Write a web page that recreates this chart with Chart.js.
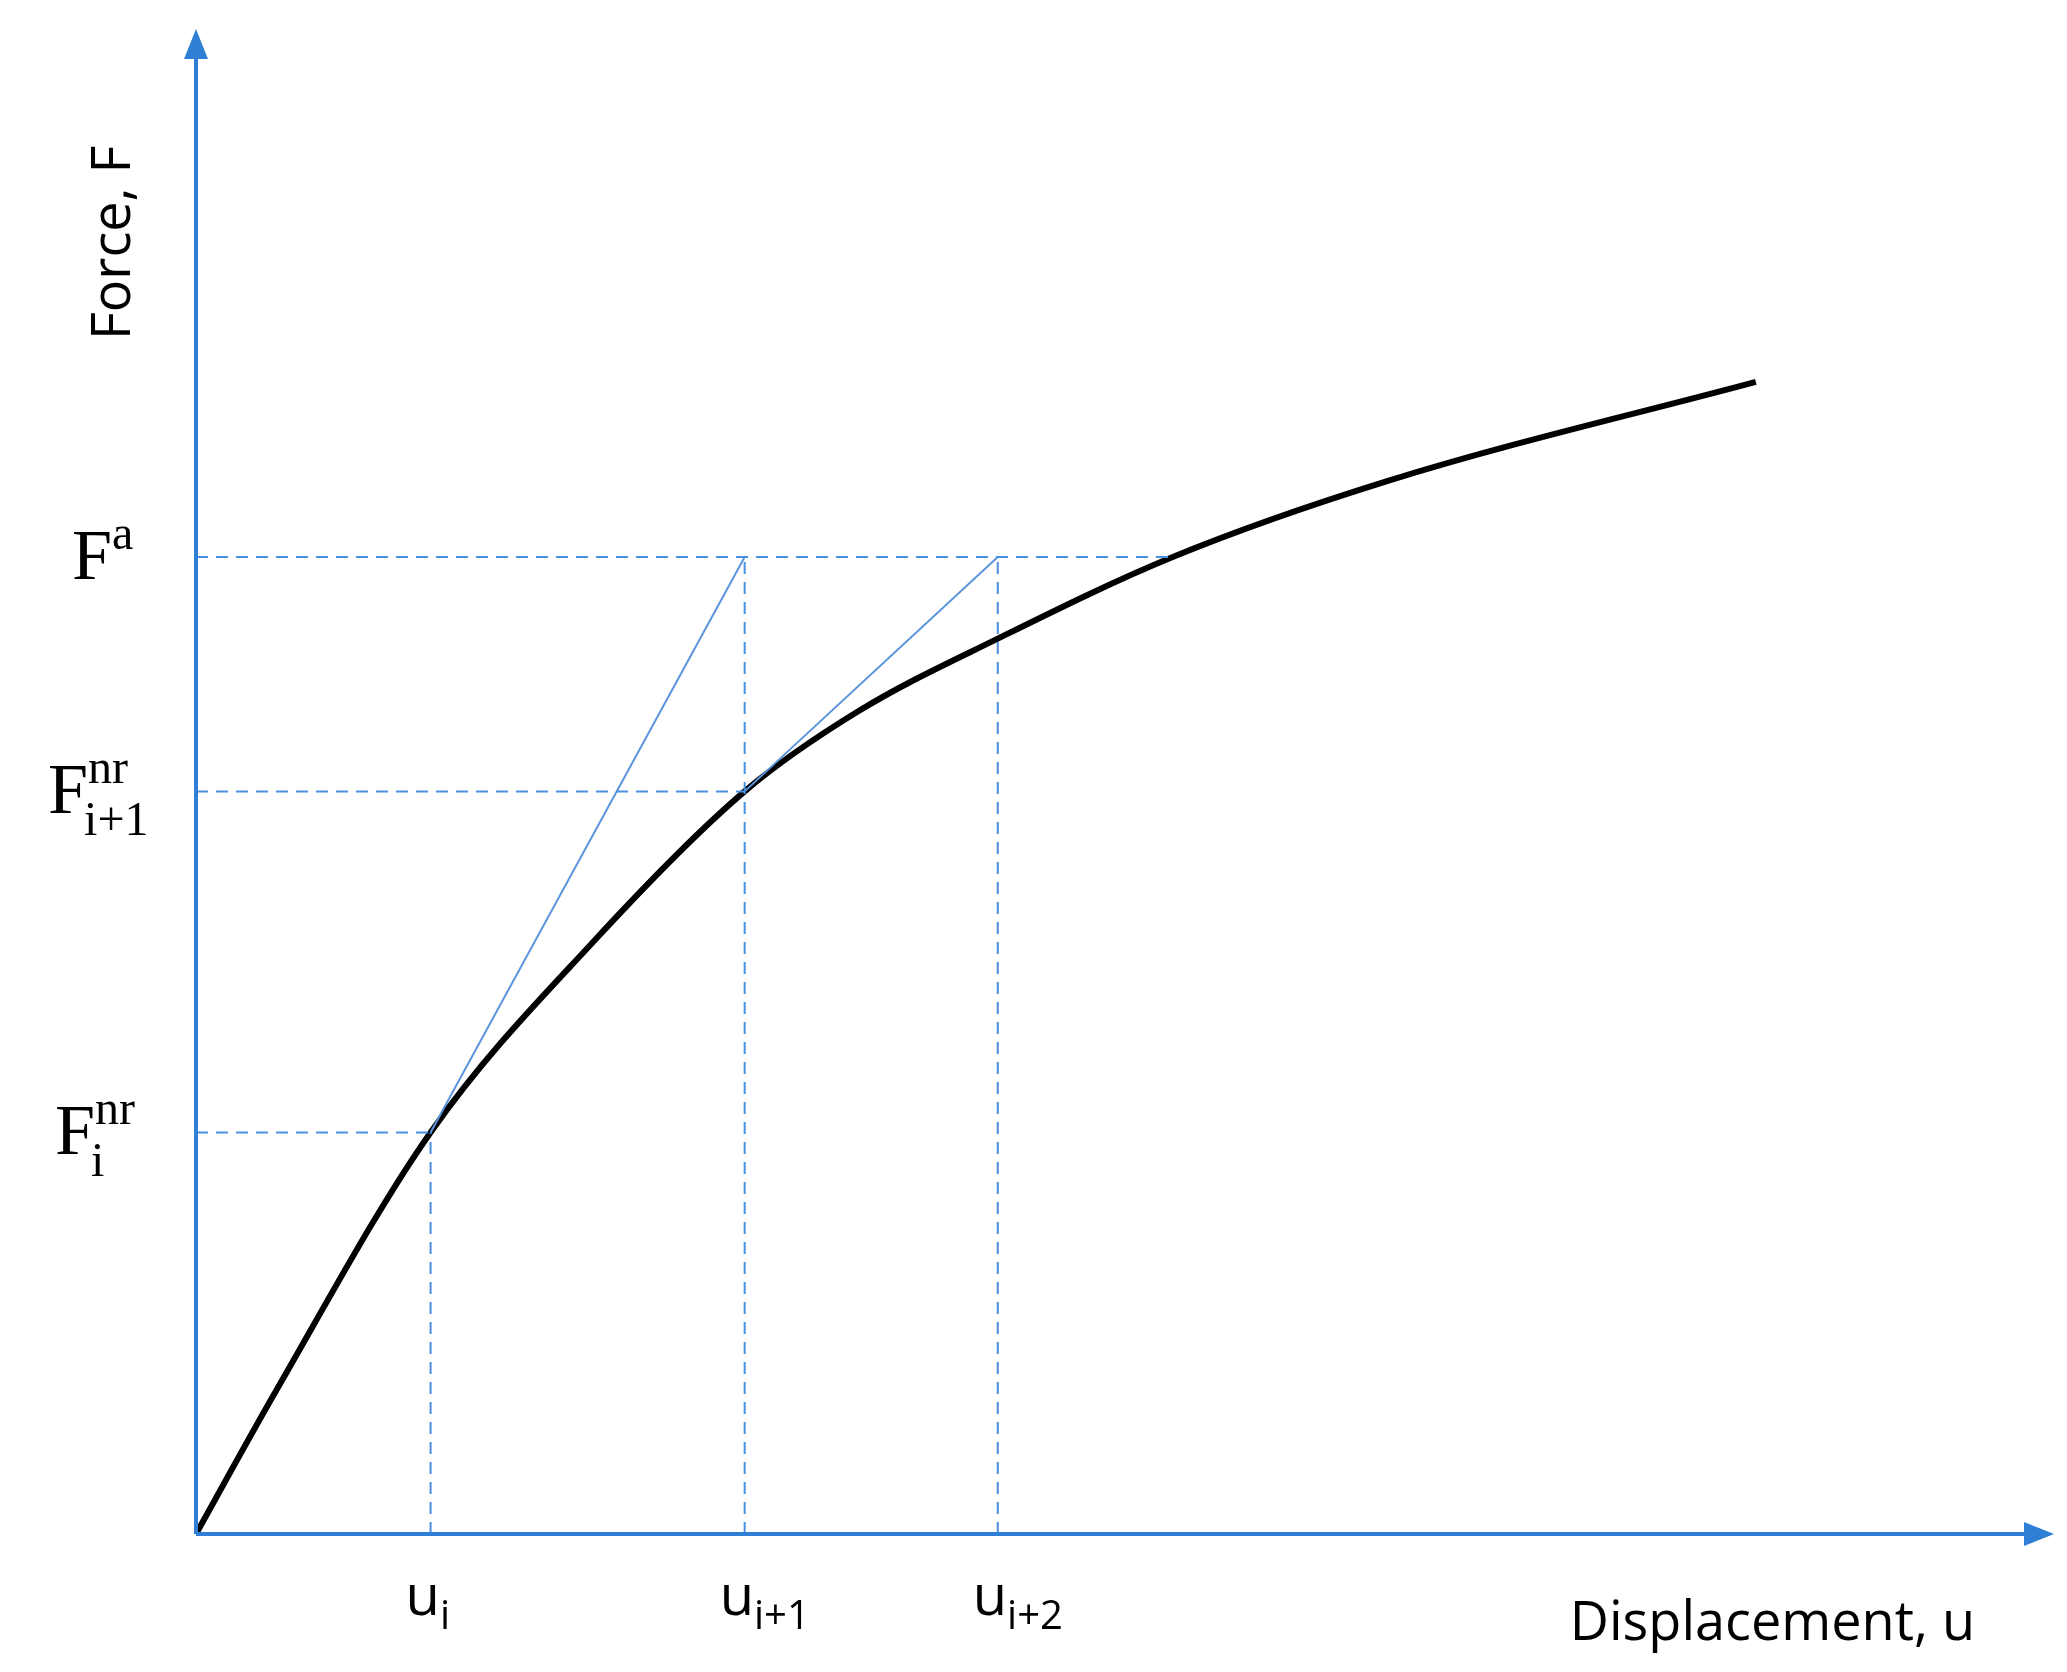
<!DOCTYPE html>
<html>
<head>
<meta charset="utf-8">
<script src="https://cdn.jsdelivr.net/npm/chart.js@4"></script>
<style>
  html, body { margin: 0; padding: 0; background: #fff; }
  #wrap { width: 2067px; height: 1672px; }
</style>
</head>
<body>
<div id="wrap"><canvas id="c"></canvas></div>
<script>
// response curve (displacement, force)
var curveU = [0, 60, 177, 300, 414, 500, 605, 737, 900, 1177];
var curveF = [0, 108, 305, 450, 564, 625, 680, 742, 800, 875];
// iteration points
var uSteps = [177, 414, 605];
var uLabels = ["i", "i+1", "i+2"];
var fSteps = [305, 564, 742];
var fLabels = [["F", "nr", "i"], ["F", "nr", "i+1"], ["F", "a", ""]];
var uCross = 737; // where F^a meets the curve
// tangent lines
var tangent1 = [[177, 305], [414, 742]];
var tangent2 = [[414, 564], [605, 742]];

var BLUE = "#2f7fd6";
var DASH = "#4a8fe0";

function pts(xs, ys) { return xs.map(function (x, i) { return { x: x, y: ys[i] }; }); }
function seg(a) { return a.map(function (p) { return { x: p[0], y: p[1] }; }); }

var dashed = [
  [[0, fSteps[0]], [uSteps[0], fSteps[0]]],
  [[0, fSteps[1]], [uSteps[1], fSteps[1]]],
  [[0, fSteps[2]], [uCross, fSteps[2]]],
  [[uSteps[0], 0], [uSteps[0], fSteps[0]]],
  [[uSteps[1], 0], [uSteps[1], fSteps[2]]],
  [[uSteps[2], 0], [uSteps[2], fSteps[2]]]
];

var datasets = [];
dashed.forEach(function (d) {
  datasets.push({ data: seg(d), borderColor: DASH, borderWidth: 2, borderDash: [12, 8], pointRadius: 0, tension: 0 });
});
[tangent1, tangent2].forEach(function (t) {
  datasets.push({ data: seg(t), borderColor: "#5b95dc", borderWidth: 2, pointRadius: 0, tension: 0 });
});
datasets.push({ data: pts(curveU, curveF), borderColor: "#000", borderWidth: 6, pointRadius: 0, cubicInterpolationMode: "monotone" });

var axesPlugin = {
  id: "axes",
  afterDatasetsDraw: function (chart) {
    var ctx = chart.ctx, xs = chart.scales.x, ys = chart.scales.y;
    var x0 = xs.getPixelForValue(0), y0 = ys.getPixelForValue(0);
    var xEnd = xs.right, yTop = ys.top;
    ctx.save();
    ctx.strokeStyle = BLUE; ctx.fillStyle = BLUE; ctx.lineWidth = 4;
    ctx.beginPath(); ctx.moveTo(x0, y0); ctx.lineTo(xEnd - 20, y0); ctx.stroke();
    ctx.beginPath(); ctx.moveTo(x0, y0); ctx.lineTo(x0, yTop + 20); ctx.stroke();
    ctx.beginPath(); ctx.moveTo(xEnd, y0); ctx.lineTo(xEnd - 30, y0 - 12); ctx.lineTo(xEnd - 30, y0 + 12); ctx.closePath(); ctx.fill();
    ctx.beginPath(); ctx.moveTo(x0, yTop); ctx.lineTo(x0 - 12, yTop + 30); ctx.lineTo(x0 + 12, yTop + 30); ctx.closePath(); ctx.fill();

    // axis titles
    ctx.fillStyle = "#000";
    ctx.font = "54px 'Open Sans'";
    ctx.textAlign = "right"; ctx.textBaseline = "alphabetic";
    ctx.fillText("Displacement, u", 1975, 1640);
    ctx.save();
    ctx.translate(130, 340); ctx.rotate(-Math.PI / 2);
    ctx.textAlign = "left";
    ctx.fillText("Force, F", 0, 0);
    ctx.restore();

    // u labels
    uSteps.forEach(function (u, i) {
      var px = xs.getPixelForValue(u);
      ctx.font = "56px 'Open Sans'"; ctx.textAlign = "left";
      var w = ctx.measureText("u").width;
      var base = 1615;
      var sx = px - 25;
      ctx.fillText("u", sx, base);
      ctx.font = "40px 'Open Sans'";
      ctx.fillText(uLabels[i], sx + w, base + 14);
    });

    // F labels
    fSteps.forEach(function (f, i) {
      var py = ys.getPixelForValue(f);
      var lab = fLabels[i];
      ctx.font = "72px 'Liberation Serif'"; ctx.textAlign = "left";
      var w = ctx.measureText("F").width;
      var sx = i === 1 ? 48 : (i === 0 ? 55 : 72);
      var base = py + 22;
      ctx.fillText(lab[0], sx, base);
      ctx.font = "48px 'Liberation Serif'";
      ctx.fillText(lab[1], sx + w, base - 30);
      if (lab[2]) ctx.fillText(lab[2], sx + w - 4, base + 22);
    });
    ctx.restore();
  }
};

new Chart(document.getElementById("c"), {
  type: "line",
  data: { datasets: datasets },
  options: {
    responsive: true, maintainAspectRatio: false, animation: false,
    layout: { padding: { left: 196, top: 29, right: 13, bottom: 138 } },
    plugins: { legend: { display: false }, tooltip: { enabled: false } },
    scales: {
      x: { type: "linear", min: 0, max: 1402, display: false },
      y: { type: "linear", min: 0, max: 1143, display: false }
    }
  },
  plugins: [axesPlugin]
});
</script>
</body>
</html>
